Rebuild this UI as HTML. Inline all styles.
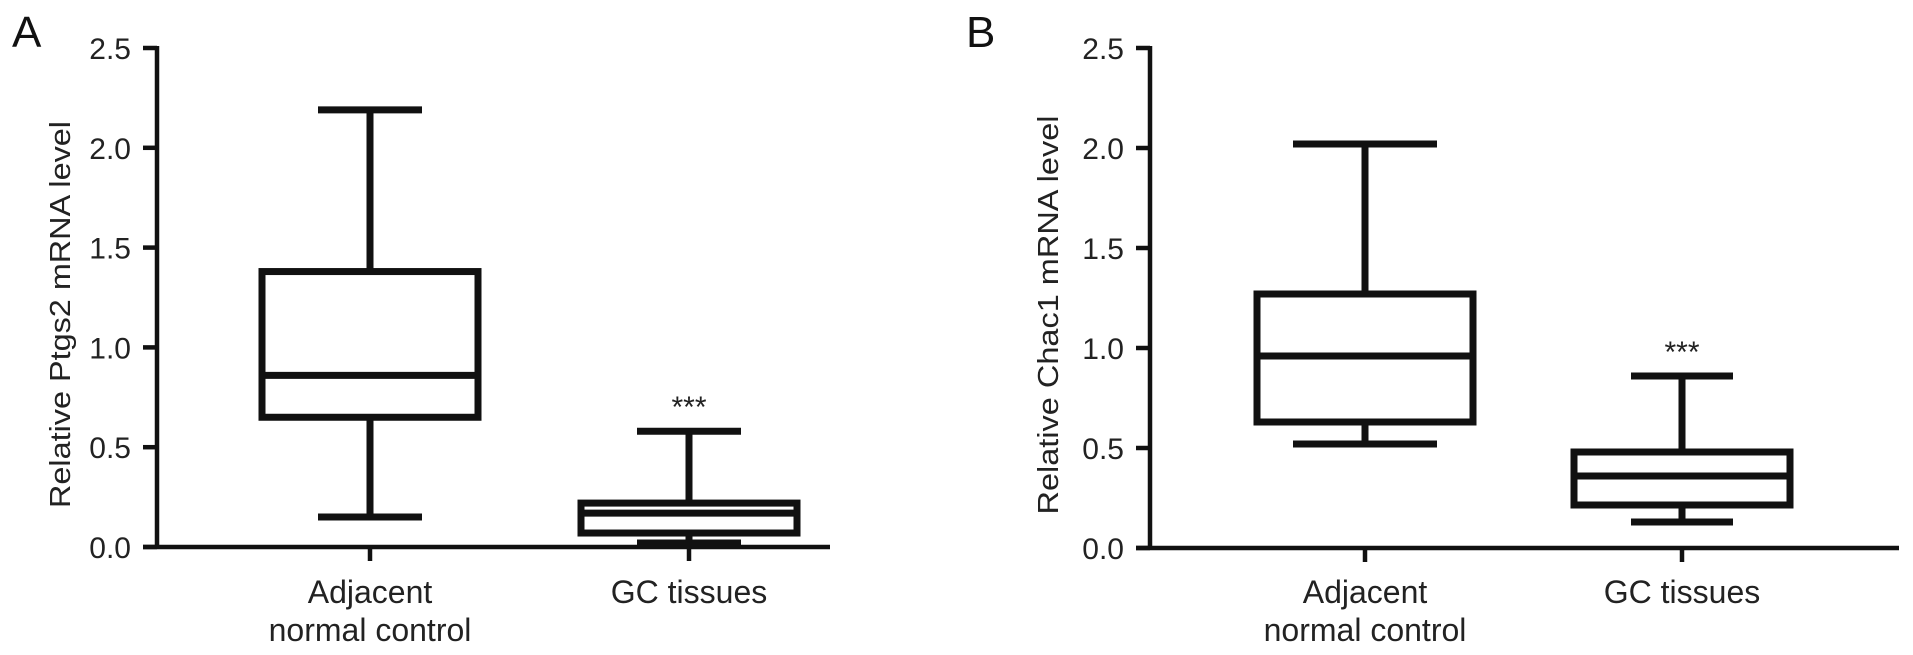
<!DOCTYPE html>
<html><head><meta charset="utf-8"><style>
html,body{margin:0;padding:0;background:#fff;}
svg{display:block;font-family:"Liberation Sans",Arial,sans-serif;}
</style></head><body>
<svg id="chart" width="1913" height="655" viewBox="0 0 1913 655"></svg>
<script>
const categories = ["Adjacent|normal control", "GC tissues"];
const yTicks = [0, 0.5, 1.0, 1.5, 2.0, 2.5];
const tickLabels = ["0.0", "0.5", "1.0", "1.5", "2.0", "2.5"];
// [min, q1, median, q3, max]
const ptgs2Adjacent = [0.15, 0.65, 0.86, 1.38, 2.19];
const ptgs2GC = [0.02, 0.07, 0.17, 0.22, 0.58];
const chac1Adjacent = [0.52, 0.63, 0.96, 1.27, 2.02];
const chac1GC = [0.13, 0.215, 0.36, 0.48, 0.86];
const sigLabels = ["", "***"];

const NS = "http://www.w3.org/2000/svg";
const svg = document.getElementById("chart");
function mk(tag, attrs, parent) {
  const e = document.createElementNS(NS, tag);
  for (const k in attrs) e.setAttribute(k, attrs[k]);
  (parent || svg).appendChild(e);
  return e;
}

const panels = [
  {id: "a", letter: "A", lx: 12, ax: 157, axEnd: 830, y0: 547, y1: 48, title: "Relative Ptgs2 mRNA level", tx: 60, tlen: 387,
   cx: [370, 689], boxHalf: 108, capHalf: [52, 52], data: [ptgs2Adjacent, ptgs2GC]},
  {id: "b", letter: "B", lx: 966, ax: 1150, axEnd: 1899, y0: 548, y1: 48, title: "Relative Chac1 mRNA level", tx: 1048, tlen: 399,
   cx: [1365, 1682], boxHalf: 108, capHalf: [72, 51], data: [chac1Adjacent, chac1GC]}
];

panels.forEach(p => {
  const g = mk("g", {});
  
  
  const yScale = v => p.y0 + (p.y1 - p.y0) * (v / 2.5);

  const L = mk("text", {x: p.lx, y: 47, "font-size": 44, fill: "#111"}, g);
  L.textContent = p.letter;
  
  

  const ya = mk("line", {x1: p.ax, y1: p.y1 - 2, x2: p.ax, y2: p.y0 + 2, stroke: "#111", "stroke-width": 4.5}, g);
  
  
  const xa = mk("line", {x1: p.ax - 14, y1: p.y0, x2: p.axEnd, y2: p.y0, stroke: "#111", "stroke-width": 4.5}, g);
  
  

  yTicks.forEach((t, i) => {
    const y = yScale(t);
    const tk = mk("line", {x1: p.ax - 14, y1: y, x2: p.ax, y2: y, stroke: "#111", "stroke-width": 4.5}, g);
    
    
    const tl = mk("text", {x: p.ax - 26, y: y + 11, "font-size": 30, "text-anchor": "end", fill: "#222"}, g);
    tl.textContent = tickLabels[i];
    
    
  });

  const yt = mk("text", {x: 0, y: 0, "font-size": 29, "text-anchor": "middle", fill: "#222",
    transform: `translate(${p.tx + 10},${(p.y0 + p.y1) / 2 + 17}) rotate(-90)`, textLength: p.tlen, lengthAdjust: "spacingAndGlyphs"}, g);
  yt.textContent = p.title;
  
  

  categories.forEach((c, i) => {
    const cx = p.cx[i];
    const tk = mk("line", {x1: cx, y1: p.y0, x2: cx, y2: p.y0 + 14, stroke: "#111", "stroke-width": 4.5}, g);
    
    
    const lines = c.split("|");
    lines.forEach((ln, j) => {
      const t = mk("text", {x: cx, y: 603 + j * 38, "font-size": 32, "text-anchor": "middle", fill: "#222"}, g);
      t.textContent = ln;
      
      
    });

    const d = p.data[i];
    const bg = mk("g", {stroke: "#111", "stroke-width": 7, fill: "none"}, g);
    
    
    const yMin = yScale(d[0]), yQ1 = yScale(d[1]), yMed = yScale(d[2]), yQ3 = yScale(d[3]), yMax = yScale(d[4]);
    const w1 = mk("line", {x1: cx, y1: yMax, x2: cx, y2: yQ3}, bg);
    
    
    const w2 = mk("line", {x1: cx, y1: yQ1, x2: cx, y2: yMin}, bg);
    
    
    const c1 = mk("line", {x1: cx - p.capHalf[i], y1: yMax, x2: cx + p.capHalf[i], y2: yMax}, bg);
    
    
    const c2 = mk("line", {x1: cx - p.capHalf[i], y1: yMin, x2: cx + p.capHalf[i], y2: yMin}, bg);
    
    
    const r = mk("rect", {x: cx - p.boxHalf, y: yQ3, width: p.boxHalf * 2, height: yQ1 - yQ3, fill: "#fff"}, bg);
    
    
    const m = mk("line", {x1: cx - p.boxHalf, y1: yMed, x2: cx + p.boxHalf, y2: yMed}, bg);
    
    

    if (sigLabels[i]) {
      const s = mk("text", {x: cx, y: yMax - 14, "font-size": 30, "text-anchor": "middle", fill: "#222"}, g);
      s.textContent = sigLabels[i];
      
      
    }
  });
});
</script>
</body></html>
